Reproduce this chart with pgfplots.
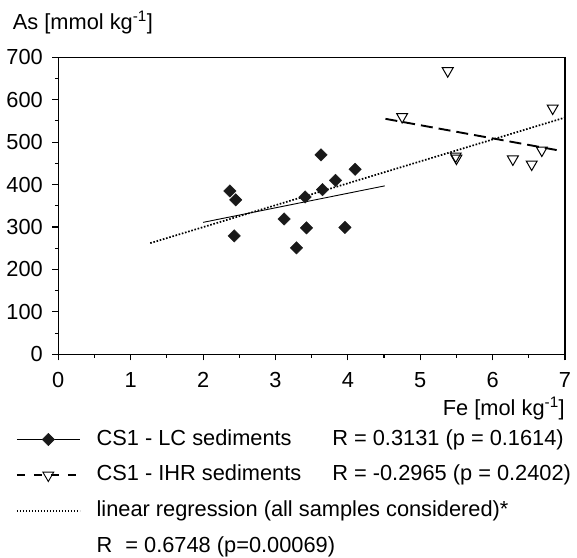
\documentclass[border=0pt]{standalone}
\usepackage{fontspec}
\setmainfont{Liberation Sans}
\usepackage{pgfplots}
\pgfplotsset{compat=1.18}
\begin{document}
\fontsize{21.8bp}{26bp}\selectfont
\begin{tikzpicture}
\useasboundingbox (0,0) rectangle (577bp,-558bp);
\begin{axis}[
  at={(58.3bp,-354.3bp)}, anchor=south west,
  scale only axis, width=506.7bp, height=297bp,
  xmin=0, xmax=7, ymin=0, ymax=700,
  xtick={0,...,7}, ytick={0,100,...,700},
  minor x tick num=1, minor y tick num=1,
  tick pos=left, tick align=outside,
  major tick length=6bp, minor tick length=3.5bp,
  every tick/.style={black, line width=1.1bp},
  axis line style={line width=1.4bp},
  /pgf/number format/assume math mode=true,
  ticklabel style={font=\fontsize{21.8bp}{26bp}\selectfont},
  xticklabel style={anchor=base, inner sep=0pt, yshift=-26.7bp},
  yticklabel style={anchor=east, inner sep=0pt, xshift=-9.3bp},
  every axis x label/.style={at={(axis description cs:1,0)}, anchor=base east, yshift=-60.7bp, inner sep=0pt},
  every axis y label/.style={at={(axis description cs:0,1)}, anchor=base west, xshift=-45.6bp, yshift=28bp, inner sep=0pt},
  xlabel={Fe [mol kg\textsuperscript{-1}]},
  ylabel={As [mmol kg\textsuperscript{-1}]},
  legend image code/.code={%
    \draw[mark repeat=2, mark phase=2, #1] plot coordinates {(0bp,0bp) (31.5bp,0bp) (63bp,0bp)};},
  legend cell align=left,
  legend style={at={(axis description cs:0,0)}, anchor=north west,
    xshift=-42.3bp, yshift=-74.7bp, draw=none, fill=none,
    inner sep=0pt, outer sep=0pt, row sep=14.7bp, column sep=16bp,
    font=\fontsize{21.8bp}{26bp}\selectfont,
    nodes={inner sep=0pt, text height=16bp, text depth=5bp}},
]
% legend
\addlegendimage{black, line width=0.9bp, mark=square*, mark size=4.4bp,
  mark options={rotate=45, fill=black!90, draw=black!90, line width=0.4bp}}
\addlegendentry{\makebox[235.7bp][l]{CS1 - LC sediments}R = 0.3131 (p = 0.1614)}
\addlegendimage{black, line width=1.5bp, dash pattern=on 8bp off 9bp, mark=triangle, mark size=6.3bp,
  mark options={solid, rotate=180, fill=white, line width=0.9bp}}
\addlegendentry{\makebox[235.7bp][l]{CS1 - IHR sediments}R = -0.2965 (p = 0.2402)}
\addlegendimage{black, line width=1.6bp, dash pattern=on 1.5bp off 1.5bp}
\addlegendentry{linear regression (all samples considered)*}
\addlegendimage{empty legend}
\addlegendentry{R\hspace{0.6em}= 0.6748 (p=0.00069)}

% regression lines
\addplot[forget plot, black, line width=0.9bp] coordinates {(2,311) (4.51,397)};
\addplot[forget plot, black, line width=1.7bp, dash pattern=on 1.6bp off 1.7bp] coordinates {(1.27,262) (7,558)};
\addplot[forget plot, black, line width=1.9bp, dash pattern=on 12bp off 6bp] coordinates {(4.52,555) (6.93,480)};

% CS1 - LC sediments
\addplot[forget plot, only marks, mark=square*, mark size=4.4bp,
  mark options={rotate=45, fill=black!90, draw=black!90, line width=0.4bp}] table {
2.37 385
2.45 364
2.43 279
3.12 319
3.29 251
3.43 298
3.41 371
3.63 470
3.65 388
3.83 410
4.10 436
3.96 299
};

% CS1 - IHR sediments
\addplot[forget plot, only marks, mark=triangle, mark size=6.3bp,
  mark options={rotate=180, fill=white, draw=black, line width=1bp}] table {
5.38 668
4.75 560
5.49 467
5.50 462
6.28 460
6.54 448
6.68 481
6.83 580
};
\end{axis}
\end{tikzpicture}
\end{document}
